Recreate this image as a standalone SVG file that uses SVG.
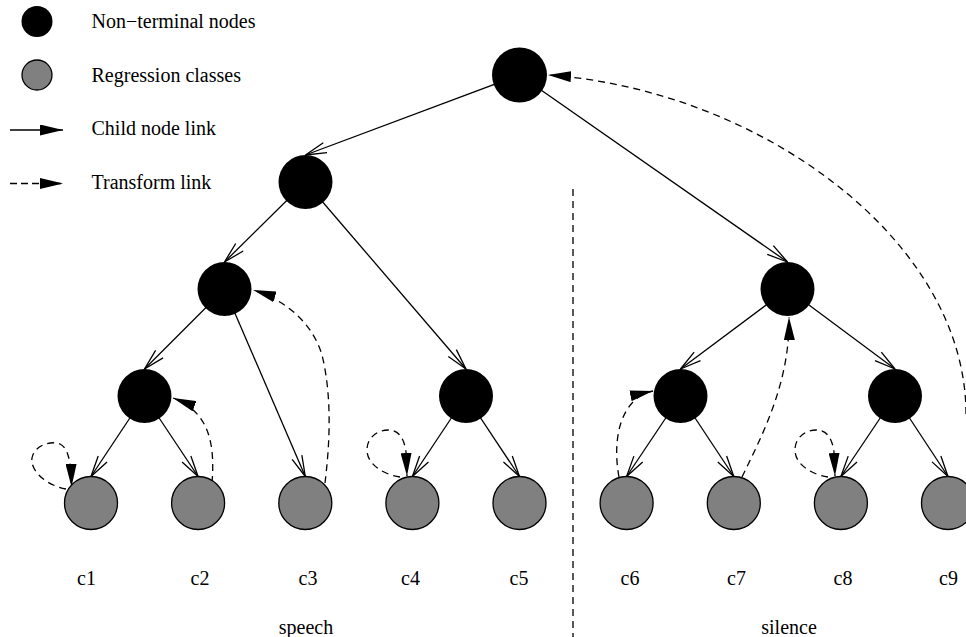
<svg xmlns="http://www.w3.org/2000/svg" width="966" height="637" viewBox="0 0 966 637">
<style>
.nt{fill:#000}
.rc{fill:#808080;stroke:#000;stroke-width:1.3}
.child{stroke:#000;stroke-width:1.3;fill:none;marker-end:url(#oa)}
.tr{stroke:#000;stroke-width:1.3;fill:none;stroke-dasharray:7 5;marker-end:url(#fa)}
.div{stroke:#000;stroke-width:1.3;fill:none;stroke-dasharray:7 5}
text{font-family:"Liberation Serif","Times New Roman",serif;font-size:20px;fill:#000}
.lbl{text-anchor:middle}
</style>
<defs>
<marker id="fa" markerWidth="23" markerHeight="11" refX="23" refY="5.5" orient="auto" markerUnits="userSpaceOnUse" viewBox="0 0 23 11">
<path d="M0,0 L23,5.5 L0,11 z" fill="#000" stroke="none"/>
</marker>
<marker id="oa" markerWidth="22" markerHeight="12" refX="21" refY="6" orient="auto" markerUnits="userSpaceOnUse" viewBox="0 0 22 12" overflow="visible">
<path d="M0,0.7 L21,6 L0,11.3" fill="none" stroke="#000" stroke-width="1.3"/>
</marker>
</defs>
<rect width="966" height="637" fill="#fff"/>

<g id="legend">
<circle class="nt" cx="37" cy="21.5" r="15.5"/>
<text x="91.5" y="28">Non−terminal nodes</text>
<circle class="rc" cx="37" cy="75" r="15"/>
<text x="91.5" y="81.5">Regression classes</text>
<line x1="10" y1="130" x2="63" y2="130" stroke="#000" stroke-width="1.3" marker-end="url(#fa)"/>
<text x="91.5" y="135">Child node link</text>
<line x1="10" y1="183.5" x2="63" y2="183.5" stroke="#000" stroke-width="1.3" stroke-dasharray="7 4" marker-end="url(#fa)"/>
<text x="91.5" y="188.5">Transform link</text>
</g>

<g id="connectors">
<line class="div" x1="573" y1="189" x2="573" y2="637"/>
<line class="child" x1="519.5" y1="75" x2="305.5" y2="155"/>
<line class="child" x1="519.5" y1="75" x2="787.5" y2="262"/>
<line class="child" x1="305.5" y1="182" x2="224.5" y2="262"/>
<line class="child" x1="305.5" y1="182" x2="466" y2="369"/>
<line class="child" x1="224.5" y1="289" x2="144.5" y2="369"/>
<line class="child" x1="224.5" y1="289" x2="305.3" y2="476.5"/>
<line class="child" x1="144.5" y1="396" x2="91" y2="476.5"/>
<line class="child" x1="144.5" y1="396" x2="198.1" y2="476.5"/>
<line class="child" x1="466" y1="396" x2="412.4" y2="476.5"/>
<line class="child" x1="466" y1="396" x2="519.5" y2="476.5"/>
<line class="child" x1="787.5" y1="289" x2="680.5" y2="369"/>
<line class="child" x1="787.5" y1="289" x2="895" y2="369"/>
<line class="child" x1="680.5" y1="396" x2="626.6" y2="476.5"/>
<line class="child" x1="680.5" y1="396" x2="733.8" y2="476.5"/>
<line class="child" x1="895" y1="396" x2="840.9" y2="476.5"/>
<line class="child" x1="895" y1="396" x2="948" y2="476.5"/>

<path class="tr" d="M966,414 C966,240 760,90 548,75"/>
<path class="tr" d="M325,483 C329,450 333,400 322,355 C312,322 285,300 253,290"/>
<path class="tr" d="M212,483 C215,445 210,412 173,398"/>
<path class="tr" d="M66,489 C45,485 30,470 32,458 C34,446 50,440 60,444 C68,448 71,460 71.5,487"/>
<path class="tr" d="M400,477 C385,475 367,465 367,450 C367,437 378,430 388,430 C398,430 404,437 406,452 L407,476"/>
<path class="tr" d="M828,477 C813,475 795,465 795,450 C795,437 806,430 816,430 C826,430 832,437 834,452 L835,476"/>
<path class="tr" d="M619,477 C612,440 620,398 653,391"/>
<path class="tr" d="M742,477 C765,430 790,380 789,317"/>
</g>

<g id="n0"><circle class="nt" cx="519.5" cy="75" r="27.5"/></g>
<g id="n1"><circle class="nt" cx="305.5" cy="182" r="27"/></g>
<g id="n2"><circle class="nt" cx="224.5" cy="289" r="27"/></g>
<g id="n3"><circle class="nt" cx="787.5" cy="289" r="27"/></g>
<g id="n4"><circle class="nt" cx="144.5" cy="396" r="27"/></g>
<g id="n5"><circle class="nt" cx="466" cy="396" r="27"/></g>
<g id="n6"><circle class="nt" cx="680.5" cy="396" r="27"/></g>
<g id="n7"><circle class="nt" cx="895" cy="396" r="27"/></g>

<g id="c1"><circle class="rc" cx="91" cy="503" r="26.5"/><text class="lbl" x="86.5" y="585">c1</text></g>
<g id="c2"><circle class="rc" cx="198.1" cy="503" r="26.5"/><text class="lbl" x="200" y="585">c2</text></g>
<g id="c3"><circle class="rc" cx="305.3" cy="503" r="26.5"/><text class="lbl" x="308" y="585">c3</text></g>
<g id="c4"><circle class="rc" cx="412.4" cy="503" r="26.5"/><text class="lbl" x="410.5" y="585">c4</text></g>
<g id="c5"><circle class="rc" cx="519.5" cy="503" r="26.5"/><text class="lbl" x="519" y="585">c5</text></g>
<g id="c6"><circle class="rc" cx="626.6" cy="503" r="26.5"/><text class="lbl" x="630" y="585">c6</text></g>
<g id="c7"><circle class="rc" cx="733.8" cy="503" r="26.5"/><text class="lbl" x="736.5" y="585">c7</text></g>
<g id="c8"><circle class="rc" cx="840.9" cy="503" r="26.5"/><text class="lbl" x="843" y="585">c8</text></g>
<g id="c9"><circle class="rc" cx="948" cy="503" r="26.5"/><text class="lbl" x="948.5" y="585">c9</text></g>

<g id="groups">
<text class="lbl" x="306" y="634">speech</text>
<text class="lbl" x="789" y="634">silence</text>
</g>
</svg>
